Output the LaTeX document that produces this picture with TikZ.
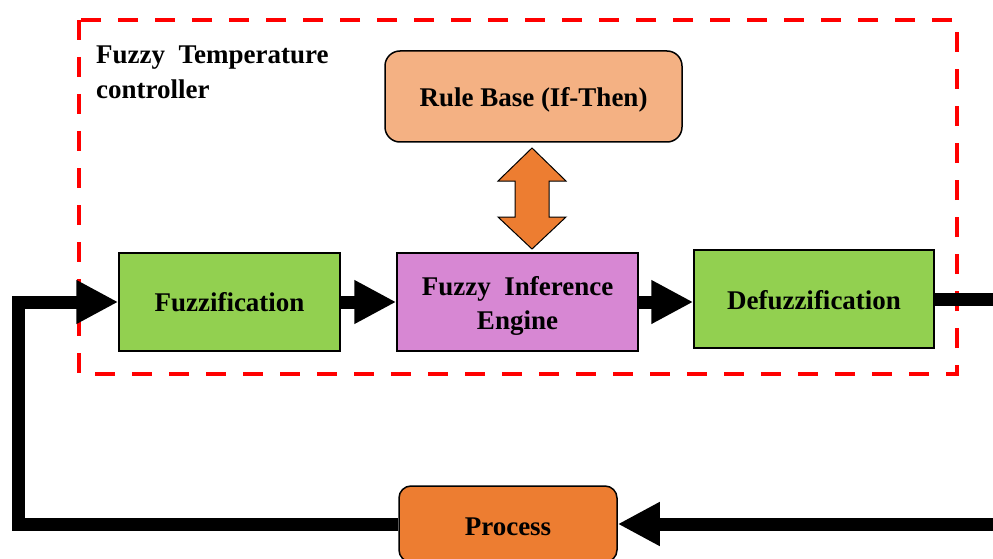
\documentclass[tikz,border=0pt]{standalone}
\usepackage{fontspec}
\setmainfont{Liberation Serif}
\usetikzlibrary{arrows.meta,calc}
\definecolor{grn}{RGB}{146,208,80}
\definecolor{orch}{RGB}{215,135,211}
\definecolor{lorange}{RGB}{244,177,131}
\definecolor{dorange}{RGB}{237,125,49}
\newcommand{\lowered}[2]{\raisebox{-#1}[\height][\depth]{#2}}
\begin{document}
\begin{tikzpicture}[x=1pt,y=-1pt,
  box/.style={draw=black, line width=1.5pt, font=\bfseries\fontsize{27}{34}\selectfont, align=center, inner sep=0pt},
  flow/.style={line width=13pt, line join=miter, -{Triangle[length=42pt,width=41pt]}}]
\useasboundingbox (0,0) rectangle (993,559);
\clip (0,0) rectangle (993,559);
\fill[white] (0,0) rectangle (993,559);
\draw[red, line width=4pt, dash pattern=on 20pt off 17pt] (79,20) rectangle (957,374);
\node[anchor=base west, inner sep=0pt, font=\bfseries\fontsize{27}{35}\selectfont] (title) at (96,64)
  {\begin{tabular}[t]{@{}l@{}}Fuzzy\ \ Temperature\\controller\end{tabular}};
\node[box, fill=lorange, rounded corners=15pt, minimum width=297pt, minimum height=91pt] (rb) at (533.5,96.5) {\lowered{3pt}{Rule Base (If-Then)}};
\node[box, fill=grn, minimum width=221pt, minimum height=98pt] (fuzz) at (229.5,302) {Fuzzification};
\node[box, fill=orch, minimum width=241pt, minimum height=98pt] (fie) at (517.5,302) {\lowered{4pt}{\begin{tabular}{@{}c@{}}Fuzzy\ \ Inference\\Engine\end{tabular}}};
\node[box, fill=grn, minimum width=240pt, minimum height=98pt] (defuzz) at (814,299) {\lowered{1pt}{Defuzzification}};
\node[box, fill=dorange, rounded corners=12pt, minimum width=218pt, minimum height=76pt] (proc) at (508,524) {\lowered{3pt}{Process}};
% double arrow between rule base and inference engine
\filldraw[fill=dorange, draw=black, line width=1pt, line join=miter]
  (532,148) -- (566,181) -- (549,181) -- (549,217) -- (566,217) -- (532,249)
  -- (498,217) -- (515,217) -- (515,181) -- (498,181) -- cycle;
\coordinate (lc) at (18.5,524);
\coordinate (rc) at (1000,297);
\draw[flow] (fuzz.east) -- (fie.west |- fuzz.east);
\draw[flow] (fie.east) -- (fie.east -| defuzz.west);
\draw[flow] (defuzz.east) -- (defuzz.east -| rc) |- (proc.east);
\draw[flow] (proc.west) -- (proc.west -| lc) |- (fuzz.west);
\end{tikzpicture}
\end{document}
